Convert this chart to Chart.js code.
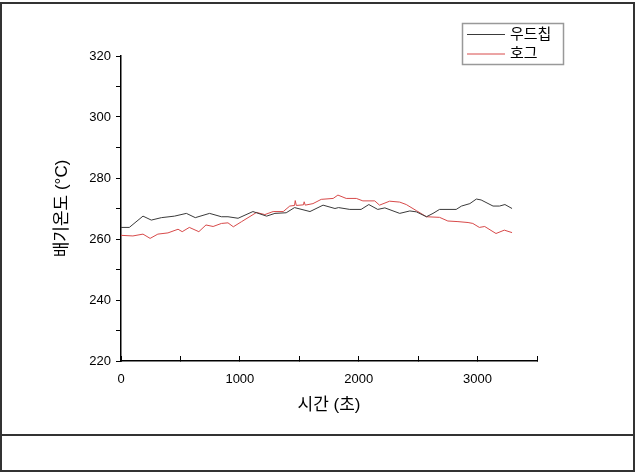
<!DOCTYPE html>
<html>
<head>
<meta charset="utf-8">
<script src="https://cdn.jsdelivr.net/npm/chart.js@4.4.0/dist/chart.umd.min.js"></script>
<style>
html, body { margin: 0; padding: 0; background: #fff; }
#wrap { position: relative; width: 635px; height: 472px; }
</style>
</head>
<body>
<div id="wrap"><canvas id="myChart" width="635" height="472"></canvas></div>
<script>
// 우드칩
const woodTime = [0, 70, 185, 255, 340, 450, 550, 625, 745, 845, 900, 985, 1110, 1225, 1295, 1390, 1460, 1590, 1700, 1800,
    1830, 1925, 2020, 2085, 2160, 2220, 2345, 2430, 2485, 2570, 2625, 2680, 2820, 2865, 2935, 2990, 3030, 3130, 3185, 3230, 3290];
const woodTemp = [263.8, 263.8, 267.5, 266.2, 267.0, 267.5, 268.4, 267.0, 268.4, 267.3, 267.3, 266.8, 269.0, 267.5, 268.4, 268.6, 270.3, 269.0, 271.1, 270.0,
    270.3, 269.7, 269.7, 271.3, 269.7, 270.2, 268.4, 269.2, 268.9, 267.3, 268.4, 269.7, 269.7, 270.8, 271.6, 273.1, 272.8, 270.8, 270.8, 271.3, 270.0];

// 호그
const hogTime = [0, 100, 185, 245, 310, 395, 480, 515, 575, 655, 715, 775, 845, 900, 945, 1015, 1140, 1210, 1280, 1365,
    1420, 1460, 1466, 1475, 1535, 1541, 1550, 1615, 1685, 1785, 1825, 1895, 1980, 2035, 2135, 2175, 2260, 2345, 2400, 2485,
    2570, 2680, 2750, 2835, 2920, 2960, 3015, 3060, 3155, 3225, 3290];
const hogTemp = [261.2, 261.0, 261.6, 260.2, 261.6, 262.0, 263.2, 262.4, 263.8, 262.4, 264.6, 264.1, 265.1, 265.3, 264.0, 265.7, 268.7, 268.0, 269.0, 269.0,
    270.8, 271.0, 272.6, 271.0, 271.2, 272.2, 271.1, 271.6, 273.0, 273.3, 274.4, 273.3, 273.3, 272.5, 272.5, 271.1, 272.4, 272.1, 271.3, 269.3,
    267.3, 267.1, 265.9, 265.7, 265.4, 265.1, 263.8, 264.1, 261.8, 262.9, 262.1];

const seriesNames = ['우드칩', '호그'];
const xLabels = [0, 1000, 2000, 3000];
const yLabels = [220, 240, 260, 280, 300, 320];

const FONT = '"Liberation Sans", "Noto Sans CJK KR", sans-serif';
Chart.defaults.font.family = FONT;
Chart.defaults.color = '#000';

const toPoints = (xs, ys) => xs.map((x, i) => ({ x: x, y: ys[i] }));

// outer frame of the figure
const framePlugin = {
    id: 'frame',
    beforeDraw(chart) {
        const ctx = chart.ctx;
        ctx.save();
        ctx.fillStyle = '#fff';
        ctx.fillRect(0, 0, chart.width, chart.height);
        ctx.strokeStyle = '#333';
        ctx.lineWidth = 2;
        ctx.strokeRect(1, 3, chart.width - 2, chart.height - 4);
        ctx.beginPath();
        ctx.moveTo(0, 435);
        ctx.lineTo(chart.width, 435);
        ctx.stroke();
        ctx.restore();
    }
};

// boxed legend in the upper right
const boxLegend = {
    id: 'boxLegend',
    afterDraw(chart) {
        const ctx = chart.ctx;
        ctx.save();
        ctx.strokeStyle = '#999';
        ctx.lineWidth = 1.5;
        ctx.strokeRect(462.5, 23.5, 101, 41);
        ctx.font = '15px ' + FONT;
        ctx.textBaseline = 'middle';
        ctx.fillStyle = '#000';
        chart.data.datasets.forEach((ds, i) => {
            const y = 34.5 + i * 19.5;
            ctx.strokeStyle = ds.borderColor;
            ctx.lineWidth = 1;
            ctx.beginPath();
            ctx.moveTo(467, y);
            ctx.lineTo(505, y);
            ctx.stroke();
            ctx.fillText(ds.label, 510, y);
        });
        ctx.restore();
    }
};

let ctx = document.getElementById('myChart').getContext('2d');
let chart = new Chart(ctx, {
    type: 'line',
    data: {
        datasets: [{
            label: seriesNames[0],
            data: toPoints(woodTime, woodTemp),
            borderColor: '#3a3a3a',
            borderWidth: 1,
            pointRadius: 0,
            tension: 0
        }, {
            label: seriesNames[1],
            data: toPoints(hogTime, hogTemp),
            borderColor: '#d84a4a',
            borderWidth: 1,
            pointRadius: 0,
            tension: 0
        }]
    },
    options: {
        responsive: false,
        animation: false,
        devicePixelRatio: 1,
        layout: { padding: { top: 56, right: 98, left: 0, bottom: 0 } },
        plugins: {
            legend: { display: false },
            tooltip: { enabled: false }
        },
        scales: {
            x: {
                type: 'linear',
                min: 0,
                max: 3500,
                ticks: {
                    stepSize: 500,
                    autoSkip: false,
                    maxRotation: 0,
                    padding: 16,
                    font: { size: 13 },
                    callback: v => xLabels.includes(v) ? v : ''
                },
                grid: { drawOnChartArea: false, drawTicks: true, tickLength: -5, color: '#000' },
                border: { display: true, color: '#000', width: 1.5 },
                title: { display: true, text: '시간 (초)', font: { size: 17 }, padding: { top: 0, bottom: 56 } },
                afterFit: s => { s.height = 111; }
            },
            y: {
                min: 220,
                max: 320,
                ticks: {
                    stepSize: 10,
                    autoSkip: false,
                    padding: 5,
                    font: { size: 13 },
                    callback: v => yLabels.includes(v) ? v : ''
                },
                grid: { drawOnChartArea: false, drawTicks: true, tickLength: 5, color: '#000' },
                border: { display: true, color: '#000', width: 1.5 },
                title: { display: true, text: '배기온도 (°C)', font: { size: 17 }, padding: { top: 52, bottom: 0 } },
                afterFit: s => { s.width = 121; }
            }
        }
    },
    plugins: [framePlugin, boxLegend]
});
</script>
</body>
</html>
